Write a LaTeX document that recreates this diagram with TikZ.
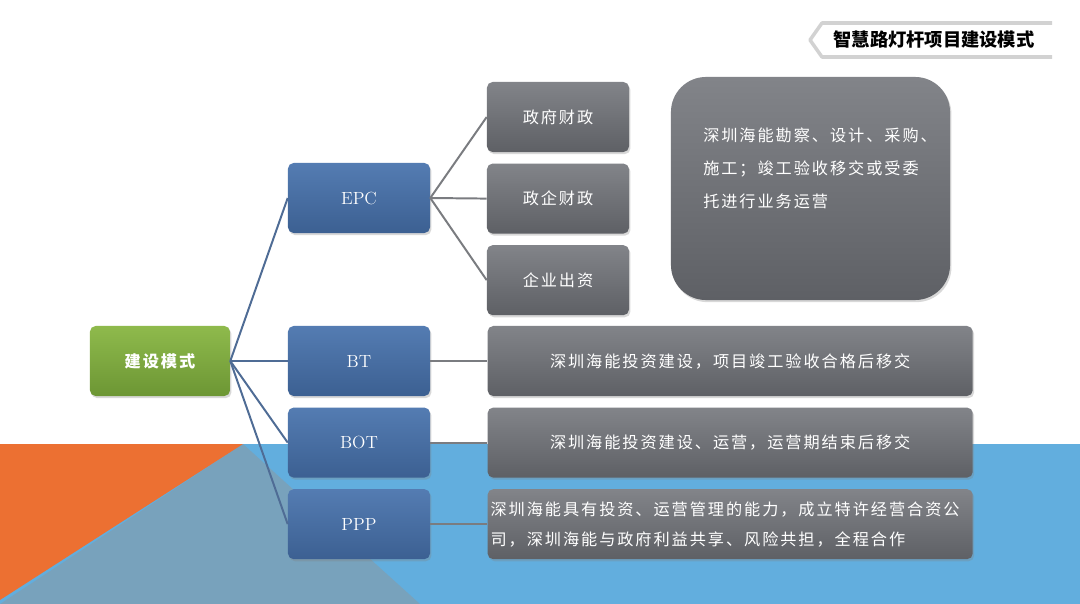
\documentclass[tikz,border=0pt]{standalone}
\usepackage{fontspec}
\newfontfamily\cjk[LetterSpace=12]{Noto Sans CJK SC}
\newfontfamily\cjkhead{Noto Sans CJK SC}
\usetikzlibrary{positioning, shadows}
\definecolor{bandblue}{RGB}{98,174,222}
\definecolor{slateblue}{RGB}{120,162,188}
\definecolor{cornerorange}{RGB}{236,112,50}
\definecolor{linkblue}{RGB}{79,108,149}
\definecolor{linkgrey}{RGB}{122,124,128}

\begin{document}
\begin{tikzpicture}[
    x=0.025cm, y=-0.025cm,
    node distance=0.275cm,
    modebox/.style={
        rectangle,
        rounded corners=4pt,
        top color={rgb,255:red,84;green,124;blue,178},
        bottom color={rgb,255:red,60;green,96;blue,146},
        minimum width=3.55cm,
        minimum height=1.75cm,
        text=white,
        font=\fontsize{12.5}{14}\selectfont,
        drop shadow={opacity=0.3, shadow xshift=1pt, shadow yshift=-1.5pt}
    },
    rootbox/.style={
        modebox,
        top color={rgb,255:red,143;green,186;blue,76},
        bottom color={rgb,255:red,108;green,150;blue,52},
        minimum width=3.5cm,
        font=\fontsize{11.5}{13}\selectfont\cjk\bfseries
    },
    greybox/.style={
        rectangle,
        rounded corners=4pt,
        top color={rgb,255:red,130;green,132;blue,137},
        bottom color={rgb,255:red,94;green,96;blue,101},
        minimum height=1.75cm,
        text=white,
        font=\fontsize{11.5}{13}\selectfont\cjk,
        drop shadow={opacity=0.3, shadow xshift=1pt, shadow yshift=-1.5pt}
    },
    fundbox/.style={greybox, minimum width=3.55cm},
    notebox/.style={greybox, minimum width=12.125cm},
    link/.style={draw=linkblue, line width=1.4pt},
    branch/.style={draw=linkgrey, line width=1.4pt}
]

\useasboundingbox (0,0) rectangle (1080,604);
\fill[white] (0,0) rectangle (1080,604);
\fill[bandblue] (0,444) rectangle (1080,604);
\fill[slateblue] (243,444) -- (420,604) -- (0,604) -- cycle;
\fill[cornerorange] (0,444) -- (243,444) -- (0,600) -- cycle;

\draw[gray!35, line width=2.5pt, line join=round, fill=white]
    (1052,23) -- (822,23) -- (810,40) -- (822,57) -- (1052,57);
\node (title) at (934,40) {\fontsize{13}{15}\selectfont\cjkhead\bfseries 智慧路灯杆项目建设模式};

\node (mode) [rootbox] at (160,361) {建设模式};

\node (EPC) [modebox] at (359,198) {EPC};
\node (BT) [modebox] at (359,361) {BT};
\node (BOT) [modebox, below=of BT] {BOT};
\node (PPP) [modebox, below=of BOT] {PPP};

\node (gov) [fundbox] at (558,117) {政府财政};
\node (govent) [fundbox, below=of gov] {政企财政};
\node (ent) [fundbox, below=of govent] {企业出资};

\node (epcnote) [greybox, minimum width=6.975cm, minimum height=5.575cm, rounded corners=0.875cm] at (810.5,188.5) {};
\node (epcnotetext) [anchor=west, inner sep=0pt, align=left, text=white,
    font=\fontsize{11.5}{23.4}\selectfont\cjk] at (703,168)
    {深圳海能勘察、设计、采购、\\施工；竣工验收移交或受委\\托进行业务运营};

\node (btnote) [notebox, right=1.425cm of BT] {深圳海能投资建设，项目竣工验收合格后移交};
\node (botnote) [notebox, right=1.425cm of BOT] {深圳海能投资建设、运营，运营期结束后移交};
\node (pppnote) [notebox, right=1.425cm of PPP, align=left, inner xsep=0.075cm,
    text width=11.975cm, font=\fontsize{11.5}{21.3}\selectfont\cjk]
    {深圳海能具有投资、运营管理的能力，成立特许经营合资公\\司，深圳海能与政府利益共享、风险共担，全程合作};

\draw [link] (mode.east) -- (EPC.west);
\draw [link] (mode.east) -- (BT.west);
\draw [link] (mode.east) -- (BOT.west);
\draw [link] (mode.east) -- (PPP.west);

\draw [branch] (EPC.east) -- (gov.west);
\draw [branch] (EPC.east) -- (govent.west);
\draw [branch] (EPC.east) -- (ent.west);

\draw [branch] (BT.east) -- (btnote.west);
\draw [branch] (BOT.east) -- (botnote.west);
\draw [branch] (PPP.east) -- (pppnote.west);

\end{tikzpicture}
\end{document}
